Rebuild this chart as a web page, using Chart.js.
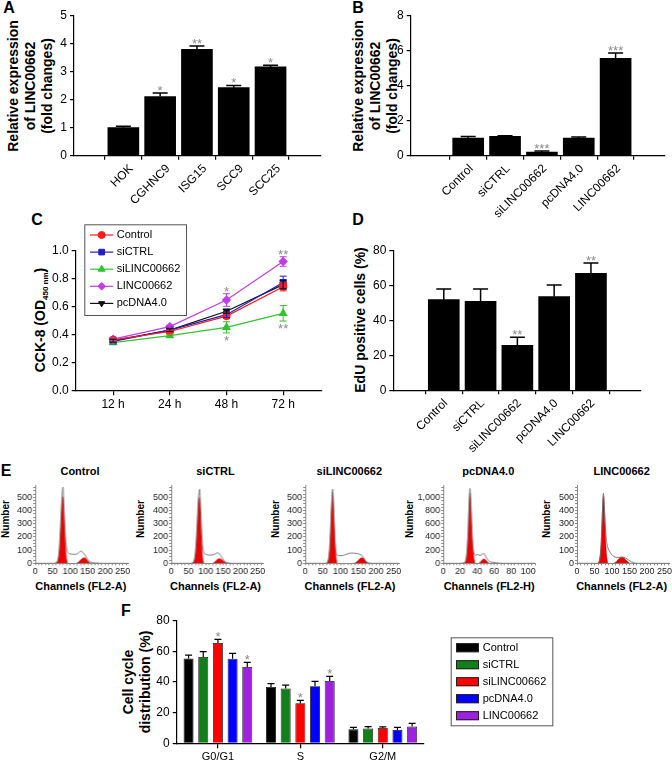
<!DOCTYPE html>
<html><head><meta charset="utf-8">
<script src="https://cdn.jsdelivr.net/npm/chart.js@4.4.1/dist/chart.umd.min.js"></script>
<style>
html,body{margin:0;padding:0;background:#fff;}
body{position:relative;width:672px;height:761px;overflow:hidden;font-family:'Liberation Sans',Arial,Helvetica,sans-serif;color:#000;}
.cw{position:absolute;}
.cw canvas{display:block;}
.tx{position:absolute;white-space:nowrap;font-weight:bold;line-height:1;transform:translate(-50%,-50%);text-align:center;}
.rot{transform:translate(-50%,-50%) rotate(-90deg);}
.lt{font-size:16px;}
.yt{font-size:14px;}
.et{font-size:11px;}
.en{font-size:10px;}
</style></head><body>
<div class="tx lt" style="left:9px;top:8px">A</div>
<div class="tx lt" style="left:358px;top:8px">B</div>
<div class="tx lt" style="left:37px;top:220px">C</div>
<div class="tx lt" style="left:358px;top:220px">D</div>
<div class="tx lt" style="left:6px;top:471px">E</div>
<div class="tx lt" style="left:126px;top:611px">F</div>

<div class="tx yt rot" style="left:30px;top:86px;line-height:17px">Relative expression<br>of LINC00662<br>(fold changes)</div>
<div class="tx yt rot" style="left:375px;top:86px;line-height:17px">Relative expression<br>of LINC00662<br>(fold changes)</div>
<div class="tx yt rot" style="left:40px;top:320px">CCK-8 (OD<span style="font-size:8px;position:relative;top:3px">450 nm</span>)</div>
<div class="tx yt rot" style="left:360px;top:320px">EdU positive cells (%)</div>
<div class="tx yt rot" style="left:136px;top:682px;line-height:16.5px">Cell cycle<br>distribution (%)</div>

<div class="tx et" style="left:80px;top:471px">Control</div>
<div class="tx et" style="left:215.5px;top:471px">siCTRL</div>
<div class="tx et" style="left:349.3px;top:471px">siLINC00662</div>
<div class="tx et" style="left:488.3px;top:471px">pcDNA4.0</div>
<div class="tx et" style="left:621.7px;top:471px">LINC00662</div>
<div class="tx en rot" style="left:6.3px;top:519px">Number</div>
<div class="tx en rot" style="left:141px;top:519px">Number</div>
<div class="tx en rot" style="left:275.7px;top:519px">Number</div>
<div class="tx en rot" style="left:409.7px;top:519px">Number</div>
<div class="tx en rot" style="left:547px;top:519px">Number</div>
<div class="tx et" style="left:80.8px;top:586px">Channels (FL2-A)</div>
<div class="tx et" style="left:215.5px;top:586px">Channels (FL2-A)</div>
<div class="tx et" style="left:350px;top:586px">Channels (FL2-A)</div>
<div class="tx et" style="left:489.2px;top:586px">Channels (FL2-H)</div>
<div class="tx et" style="left:621.7px;top:586px">Channels (FL2-A)</div>

<script>
// ================= DATA =================
// Panel A
const catsA = ['HOK', 'CGHNC9', 'ISG15', 'SCC9', 'SCC25'];
const valsA = [1.00, 2.11, 3.80, 2.43, 3.17];
const errA  = [0.05, 0.13, 0.12, 0.08, 0.06];
const starsA = ['', '*', '**', '*', '*'];
const yTicksA = [0, 1, 2, 3, 4, 5];

// Panel B
const catsB = ['Control', 'siCTRL', 'siLINC00662', 'pcDNA4.0', 'LINC00662'];
const valsB = [1.01, 1.10, 0.21, 1.01, 5.56];
const errB  = [0.09, 0.04, 0.06, 0.06, 0.31];
const starsB = ['', '', '***', '', '***'];
const yTicksB = [0, 2, 4, 6, 8];

// Panel C
const timesC = ['12 h', '24 h', '48 h', '72 h'];
const cCtrl = [0.36, 0.42, 0.53, 0.74];     const cCtrlErr = [0.01, 0.01, 0.015, 0.03];
const cSiC  = [0.35, 0.43, 0.54, 0.77];     const cSiCErr  = [0.01, 0.01, 0.02, 0.045];
const cSiL  = [0.34, 0.39, 0.45, 0.55];     const cSiLErr  = [0.01, 0.01, 0.04, 0.055];
const cLinc = [0.365, 0.455, 0.645, 0.92];  const cLincErr = [0.01, 0.01, 0.045, 0.034];
const cPc   = [0.355, 0.43, 0.565, 0.755];  const cPcErr   = [0.01, 0.01, 0.015, 0.03];
const starsCSiL  = ['', '', '*', '**'];
const starsCLinc = ['', '', '*', '**'];
const yTicksC = [0, 0.2, 0.4, 0.6, 0.8, 1.0];

// Panel D
const catsD = ['Control', 'siCTRL', 'siLINC00662', 'pcDNA4.0', 'LINC00662'];
const valsD = [51.8, 50.9, 25.7, 53.5, 66.9];
const errD  = [6.1, 7.0, 4.6, 6.7, 5.9];
const starsD = ['', '', '**', '', '**'];
const yTicksD = [0, 20, 40, 60, 80];

// Panel E (flow cytometry histograms)
const eXTicksA = [0, 50, 100, 150, 200, 250];
const eXTicksH = [0, 20, 40, 60, 80, 100];
const eYTicks   = [0, 100, 200, 300, 400, 500];
const eYTicksPc = [0, 200, 400, 600, 800, 1000];

const e1Ch = [0, 50, 58, 63, 67, 70, 73, 76, 78, 79.5, 81, 84, 87, 90, 94, 100, 110, 120, 126, 130, 134, 138, 143, 148, 153, 158, 165, 175, 190, 265];
const e1N  = [0, 0, 3, 15, 60, 160, 320, 480, 560, 578, 500, 330, 180, 110, 80, 72, 68, 72, 85, 92, 88, 78, 60, 38, 20, 10, 4, 2, 0, 0];
const e1G1Ch = [60, 66, 70, 73, 76, 78, 80, 82, 85, 88, 92];
const e1G1   = [0, 30, 120, 280, 440, 505, 490, 380, 200, 70, 0];
const e1G2Ch = [118, 125, 131, 137, 141, 146, 152, 158];
const e1G2   = [0, 12, 28, 40, 42, 32, 12, 0];

const e2Ch = [0, 55, 62, 67, 71, 75, 78, 81, 82.5, 84, 87, 90, 94, 100, 110, 120, 128, 133, 137, 142, 147, 152, 158, 165, 175, 265];
const e2N  = [0, 0, 5, 30, 120, 300, 470, 550, 562, 490, 300, 150, 85, 68, 62, 63, 72, 80, 76, 62, 42, 22, 10, 4, 0, 0];
const e2G1Ch = [63, 69, 73, 77, 80, 82, 84, 87, 90, 94];
const e2G1   = [0, 50, 170, 370, 490, 500, 420, 220, 60, 0];
const e2G2Ch = [120, 127, 133, 138, 143, 149, 155, 160];
const e2G2   = [0, 12, 28, 35, 33, 22, 8, 0];

const e3Ch = [0, 55, 62, 66, 70, 73, 76, 77.5, 79, 82, 85, 88, 92, 100, 110, 120, 130, 140, 150, 157, 163, 168, 173, 180, 190, 265];
const e3N  = [0, 0, 4, 25, 120, 320, 500, 562, 500, 300, 140, 75, 60, 58, 62, 72, 78, 76, 72, 65, 50, 30, 12, 3, 0, 0];
const e3G1Ch = [62, 67, 71, 74, 76.5, 78, 80, 83, 86, 90];
const e3G1   = [0, 60, 220, 420, 530, 540, 450, 250, 80, 0];
const e3G2Ch = [138, 145, 151, 156, 160, 165, 171, 177];
const e3G2   = [0, 10, 25, 38, 42, 36, 15, 0];

const e4Ch = [0, 20, 24, 27, 29, 30.5, 31.5, 32.5, 34, 36, 38, 40, 42, 44, 46, 47.5, 49, 51, 53, 55, 58, 62, 70, 108];
const e4N  = [0, 0, 10, 80, 400, 900, 1140, 900, 400, 160, 120, 135, 125, 120, 140, 150, 130, 80, 45, 25, 15, 8, 0, 0];
const e4G1Ch = [25, 27.5, 29.5, 30.5, 31.5, 32.5, 33.5, 35.5, 37.5];
const e4G1   = [0, 100, 500, 900, 1070, 950, 600, 150, 0];
const e4G2Ch = [42, 44, 46, 48, 50, 52, 54];
const e4G2   = [0, 25, 55, 65, 50, 20, 0];

const e5Ch = [0, 55, 62, 66, 69, 72, 74, 75.5, 77, 80, 83, 87, 92, 98, 105, 112, 120, 127, 133, 140, 148, 155, 162, 170, 264];
const e5N  = [0, 0, 5, 40, 150, 350, 490, 532, 480, 330, 200, 130, 95, 70, 52, 45, 45, 48, 46, 38, 24, 12, 5, 0, 0];
const e5G1Ch = [60, 65, 69, 72, 74.5, 76, 78, 81, 84, 88];
const e5G1   = [0, 40, 160, 350, 500, 510, 420, 220, 70, 0];
const e5G2Ch = [105, 112, 119, 125, 130, 136, 143, 150];
const e5G2   = [0, 12, 32, 44, 45, 35, 15, 0];

// Panel F
const phasesF = ['G0/G1', 'S', 'G2/M'];
const groupsF = ['Control', 'siCTRL', 'siLINC00662', 'pcDNA4.0', 'LINC00662'];
const fCtrl = [55.4, 36.7, 9.1];  const fCtrlErr = [2.2, 2.2, 1.3];
const fSiC  = [56.3, 35.7, 9.6];  const fSiCErr  = [3.5, 2.3, 1.3];
const fSiL  = [65.4, 26.1, 10.0]; const fSiLErr  = [2.4, 1.9, 0.7];
const fPc   = [55.2, 37.2, 8.7];  const fPcErr   = [3.5, 3.2, 1.7];
const fLinc = [49.8, 40.7, 10.9]; const fLincErr = [3.0, 3.0, 2.1];
const fStarsSiL  = ['*', '*', ''];
const fStarsLinc = ['*', '*', ''];
const yTicksF = [0, 20, 40, 60, 80];

// ================= STYLE / HELPERS =================
Chart.defaults.font.family = "'Liberation Sans', Arial, Helvetica, sans-serif";
Chart.defaults.color = '#000';
Chart.defaults.animation = false;

const errPlugin = {
  id: 'errBars',
  afterDatasetsDraw(chart, args, o) {
    const ctx = chart.ctx, ys = chart.scales.y;
    chart.data.datasets.forEach((ds, di) => {
      if (!ds.err) return;
      const meta = chart.getDatasetMeta(di);
      meta.data.forEach((el, i) => {
        const raw = ds.data[i];
        const v = (raw !== null && typeof raw === 'object') ? raw.y : raw;
        const e = ds.err[i];
        const x = el.x;
        const yHi = ys.getPixelForValue(v + e);
        const yLo = ys.getPixelForValue(v - e);
        ctx.save();
        ctx.strokeStyle = ds.errColor || o.color;
        ctx.lineWidth = o.lw;
        ctx.beginPath();
        ctx.moveTo(x, o.both ? yLo : el.y);
        ctx.lineTo(x, yHi);
        ctx.moveTo(x - o.cap / 2, yHi); ctx.lineTo(x + o.cap / 2, yHi);
        if (o.both) { ctx.moveTo(x - o.cap / 2, yLo); ctx.lineTo(x + o.cap / 2, yLo); }
        ctx.stroke();
        if (ds.stars && ds.stars[i]) {
          ctx.fillStyle = o.starColor;
          ctx.font = o.starSize + "px 'Liberation Sans', Arial, sans-serif";
          ctx.textAlign = 'center';
          ctx.textBaseline = 'alphabetic';
          if (ds.starPos === 'below') ctx.fillText(ds.stars[i], x, yLo + o.below);
          else ctx.fillText(ds.stars[i], x, yHi + o.above);
        }
        ctx.restore();
      });
    });
  }
};

const legendPlugin = {
  id: 'boxLegend',
  afterDraw(chart, args, o) {
    if (!o || !o.items) return;
    const ctx = chart.ctx;
    ctx.save();
    ctx.strokeStyle = o.border; ctx.lineWidth = 1;
    ctx.strokeRect(o.x + 0.5, o.y + 0.5, o.w, o.h);
    ctx.font = o.fnt; ctx.textBaseline = 'middle'; ctx.textAlign = 'left';
    o.items.forEach((di, k) => {
      const ds = chart.data.datasets[di];
      const y = o.rowY + k * o.rowStep;
      if (o.kind === 'line') {
        ctx.strokeStyle = ds.borderColor; ctx.lineWidth = ds.borderWidth;
        ctx.beginPath(); ctx.moveTo(o.sx0, y); ctx.lineTo(o.sx1, y); ctx.stroke();
        ctx.fillStyle = ds.pointBackgroundColor; ctx.strokeStyle = ds.pointBorderColor; ctx.lineWidth = 1;
        Chart.helpers.drawPoint(ctx, {pointStyle: ds.pointStyle, rotation: ds.pointRotation || 0, radius: ds.pointRadius, borderWidth: 1}, (o.sx0 + o.sx1) / 2, y);
      } else {
        ctx.fillStyle = ds.backgroundColor;
        ctx.fillRect(o.sx0, y - o.sh / 2, o.sx1 - o.sx0, o.sh);
        ctx.strokeStyle = '#222'; ctx.lineWidth = 1;
        ctx.strokeRect(o.sx0 + 0.5, y - o.sh / 2 + 0.5, o.sx1 - o.sx0 - 1, o.sh - 1);
      }
      ctx.fillStyle = '#000';
      ctx.fillText(ds.label, o.tx, y);
    });
    ctx.restore();
  }
};

function mk(cx, cy, cw, ch, plot, yW, xH, cfg) {
  const wrap = document.createElement('div');
  wrap.className = 'cw'; wrap.style.left = cx + 'px'; wrap.style.top = cy + 'px';
  const c = document.createElement('canvas');
  c.width = cw; c.height = ch; c.style.width = cw + 'px'; c.style.height = ch + 'px';
  wrap.appendChild(c); document.body.appendChild(wrap);
  cfg.options.layout = {padding: {left: plot.l - cx - yW, top: plot.t - cy, right: cx + cw - plot.r, bottom: cy + ch - plot.b - xH}};
  cfg.options.scales.x.afterFit = s => { s.height = xH; };
  cfg.options.scales.y.afterFit = s => { s.width = yW; };
  cfg.options.responsive = false;
  cfg.options.animation = false;
  cfg.options.devicePixelRatio = 1;
  cfg.options.plugins = Object.assign({legend: {display: false}, tooltip: {enabled: false}}, cfg.options.plugins || {});
  return new Chart(c, cfg);
}

const AX = '#000';
function yAxis(ticks, max, size, fmt) {
  return {
    type: 'linear', min: 0, max: max,
    afterBuildTicks: s => { s.ticks = ticks.map(v => ({value: v})); },
    ticks: {autoSkip: false, font: {size: size}, color: '#000', padding: 3, callback: fmt || (v => String(v))},
    grid: {drawOnChartArea: false, tickLength: 4, color: AX, lineWidth: 1.2},
    border: {color: AX, width: 1.2}
  };
}
function xLinearCats(cats, min, max, rot, size, lOff) {
  return {
    type: 'linear', min: min, max: max,
    afterBuildTicks: s => { s.ticks = cats.map((c, i) => ({value: i})); },
    ticks: {autoSkip: false, minRotation: rot, maxRotation: rot, font: {size: size}, color: '#000', padding: 2, labelOffset: lOff, callback: v => cats[v]},
    grid: {drawOnChartArea: false, tickLength: 4, color: AX, lineWidth: 1.2},
    border: {color: AX, width: 1.2}
  };
}

function barPanel(cx, cy, cw, ch, plot, yW, xH, cats, vals, errs, stars, yTicks, yMax, xMin, xMax, lOff) {
  return mk(cx, cy, cw, ch, plot, yW, xH, {
    type: 'bar',
    data: {datasets: [{data: vals.map((v, i) => ({x: i, y: v})), backgroundColor: '#000', borderWidth: 0, barThickness: 31, err: errs, stars: stars}]},
    options: {
      scales: {x: xLinearCats(cats, xMin, xMax, 45, 12, lOff), y: yAxis(yTicks, yMax, 12)},
      plugins: {errBars: {cap: 15, lw: 1.5, both: false, color: '#000', starSize: 13, starColor: '#8a8a8a', above: 2, below: 12}}
    },
    plugins: [errPlugin]
  });
}

// ================= PANEL A =================
barPanel(50, 0, 280, 215, {l: 74, r: 321, t: 15.7, b: 155.7}, 24, 56, catsA, valsA, errA, starsA, yTicksA, 5, -0.67, 4.7, 8);
// ================= PANEL B =================
barPanel(380, 0, 292, 232, {l: 410.7, r: 665, t: 15.7, b: 155.7}, 24, 72, catsB, valsB, errB, starsB, yTicksB, 8, -0.87, 4.65, 3);

// ================= PANEL C =================
function lineDs(label, vals, errs, color, style, radius, rot, stars, starPos) {
  return {label: label, data: vals.map((v, i) => ({x: i, y: v})), borderColor: color, borderWidth: 1.2,
    pointBackgroundColor: color, pointBorderColor: color, pointStyle: style, pointRadius: radius, pointRotation: rot,
    fill: false, tension: 0, err: errs, errColor: color, stars: stars, starPos: starPos};
}
mk(30, 195, 300, 225, {l: 75.7, r: 321.7, t: 250.3, b: 390.3}, 30, 20, {
  type: 'line',
  data: {datasets: [
    lineDs('Control', cCtrl, cCtrlErr, '#ff1a1a', 'circle', 3.5, 0),
    lineDs('siCTRL', cSiC, cSiCErr, '#1f1fc8', 'rect', 4, 0),
    lineDs('siLINC00662', cSiL, cSiLErr, '#33c233', 'triangle', 4, 0, starsCSiL, 'below'),
    lineDs('LINC00662', cLinc, cLincErr, '#c23ce8', 'rectRot', 3.8, 0, starsCLinc, 'above'),
    lineDs('pcDNA4.0', cPc, cPcErr, '#111111', 'triangle', 3.5, 180)
  ]},
  options: {
    scales: {
      x: {type: 'linear', min: -0.66, max: 3.68,
        afterBuildTicks: s => { s.ticks = timesC.map((t, i) => ({value: i})); },
        ticks: {autoSkip: false, maxRotation: 0, font: {size: 12}, color: '#000', padding: 2, callback: v => timesC[v]},
        grid: {drawOnChartArea: false, tickLength: 5, color: AX, lineWidth: 1.2}, border: {color: AX, width: 1.2}},
      y: yAxis(yTicksC, 1.0, 12, v => v.toFixed(1))
    },
    plugins: {
      errBars: {cap: 7, lw: 1, both: true, color: '#000', starSize: 13, starColor: '#8a8a8a', above: 2, below: 12},
      boxLegend: {x: 54.3, y: 29.3, w: 101.7, h: 90.7, border: '#555', fnt: "11px 'Liberation Sans', Arial, sans-serif",
        kind: 'line', items: [0, 1, 2, 3, 4], rowY: 40, rowStep: 17.1, sx0: 60, sx1: 83.3, tx: 86.7}
    }
  },
  plugins: [errPlugin, legendPlugin]
});

// ================= PANEL D =================
barPanel(340, 200, 332, 265, {l: 393.3, r: 640.7, t: 250.3, b: 390.3}, 24, 72, catsD, valsD, errD, starsD, yTicksD, 80, -0.70, 4.68, 2);

// ================= PANEL E =================
const ePanels = [
  {ch: e1Ch, n: e1N, g1c: e1G1Ch, g1: e1G1, g2c: e1G2Ch, g2: e1G2, xt: eXTicksA, xMinor: 10, yt: eYTicks, yMinor: 25, l: 35, r: 127.5, xMax: 265, yMax: 590, yW: 22},
  {ch: e2Ch, n: e2N, g1c: e2G1Ch, g1: e2G1, g2c: e2G2Ch, g2: e2G2, xt: eXTicksA, xMinor: 10, yt: eYTicks, yMinor: 25, l: 171, r: 262.5, xMax: 265, yMax: 590, yW: 22},
  {ch: e3Ch, n: e3N, g1c: e3G1Ch, g1: e3G1, g2c: e3G2Ch, g2: e3G2, xt: eXTicksA, xMinor: 10, yt: eYTicks, yMinor: 25, l: 305, r: 398.5, xMax: 265, yMax: 590, yW: 22},
  {ch: e4Ch, n: e4N, g1c: e4G1Ch, g1: e4G1, g2c: e4G2Ch, g2: e4G2, xt: eXTicksH, xMinor: 4, yt: eYTicksPc, yMinor: 50, l: 443.3, r: 535, xMax: 108, yMax: 1183, yW: 27},
  {ch: e5Ch, n: e5N, g1c: e5G1Ch, g1: e5G1, g2c: e5G2Ch, g2: e5G2, xt: eXTicksA, xMinor: 10, yt: eYTicks, yMinor: 25, l: 576.7, r: 669.5, xMax: 264, yMax: 590, yW: 22}
];
const EGRAY = '#8a8a8a';
ePanels.forEach(p => {
  const cx = p.l - p.yW - 3, cy = 476;
  const cw = Math.min(672 - cx, (p.r - cx) + 12);
  const xs = []; for (let v = 0; v <= p.xMax; v += p.xMinor) xs.push(v);
  const yv = []; for (let v = 0; v <= p.yMax; v += p.yMinor) yv.push(v);
  const redDs = (cs, ys) => ({data: cs.map((c, i) => ({x: c, y: ys[i]})), borderColor: '#c00000', borderWidth: 0.5,
    backgroundColor: '#ee0000', pointRadius: 0, fill: 'origin', cubicInterpolationMode: 'monotone'});
  const d1 = redDs(p.g1c, p.g1); d1.order = 1;
  const d2 = redDs(p.g2c, p.g2); d2.order = 2;
  mk(cx, cy, cw, 104, {l: p.l, r: p.r, t: 485.5, b: 563.3}, p.yW, 14, {
    type: 'line',
    data: {datasets: [
      {data: p.ch.map((c, i) => ({x: c, y: p.n[i]})), borderColor: '#707070', borderWidth: 0.9, pointRadius: 0, fill: false, cubicInterpolationMode: 'monotone', order: 0},
      d1, d2
    ]},
    options: {
      scales: {
        x: {type: 'linear', min: 0, max: p.xMax,
          afterBuildTicks: s => { s.ticks = xs.map(v => ({value: v})); },
          ticks: {autoSkip: false, maxRotation: 0, font: {size: 9}, color: '#222', padding: 1, callback: v => p.xt.includes(v) ? String(v) : ''},
          grid: {drawOnChartArea: false, tickLength: 2, color: EGRAY, lineWidth: 1}, border: {color: EGRAY, width: 1}},
        y: {type: 'linear', min: 0, max: p.yMax,
          afterBuildTicks: s => { s.ticks = yv.map(v => ({value: v})); },
          ticks: {autoSkip: false, font: {size: 9}, color: '#222', padding: 1, callback: v => p.yt.includes(v) ? v.toLocaleString('en-US') : ''},
          grid: {drawOnChartArea: false, tickLength: 2, color: EGRAY, lineWidth: 1}, border: {color: EGRAY, width: 1}}
      }
    }
  });
});

// ================= PANEL F =================
const fColors = ['#000000', '#12801a', '#ff0000', '#0000ff', '#a020e0'];
function fDs(k, vals, errs, stars) {
  return {label: groupsF[k], data: vals, backgroundColor: fColors[k], borderColor: '#111', borderWidth: 0.8,
    categoryPercentage: 0.89, barPercentage: 0.68, err: errs, stars: stars};
}
mk(140, 605, 532, 156, {l: 176.7, r: 424, t: 620.7, b: 743.3}, 30, 17, {
  type: 'bar',
  data: {labels: phasesF, datasets: [
    fDs(0, fCtrl, fCtrlErr), fDs(1, fSiC, fSiCErr), fDs(2, fSiL, fSiLErr, fStarsSiL),
    fDs(3, fPc, fPcErr), fDs(4, fLinc, fLincErr, fStarsLinc)
  ]},
  options: {
    scales: {
      x: {type: 'category', offset: true,
        ticks: {font: {size: 11}, color: '#000', padding: 2},
        grid: {offset: false, drawOnChartArea: false, tickLength: 5, color: AX, lineWidth: 1.2}, border: {color: AX, width: 1.2}},
      y: yAxis(yTicksF, 80, 12)
    },
    plugins: {
      errBars: {cap: 7, lw: 1.2, both: false, color: '#000', starSize: 13, starColor: '#8a8a8a', above: 2, below: 12},
      boxLegend: {x: 310.7, y: 32.3, w: 101.6, h: 88, border: '#555', fnt: "11px 'Liberation Sans', Arial, sans-serif",
        kind: 'rect', items: [0, 1, 2, 3, 4], rowY: 42.7, rowStep: 17, sx0: 316, sx1: 339, sh: 9, tx: 342.7}
    }
  },
  plugins: [errPlugin, legendPlugin]
});
</script>
</body></html>
